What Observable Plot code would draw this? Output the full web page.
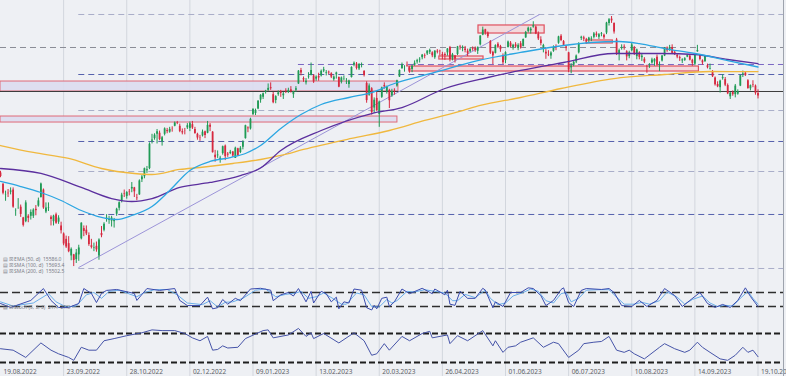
<!DOCTYPE html>
<html><head><meta charset="utf-8">
<script src="https://cdn.jsdelivr.net/npm/d3@7"></script>
<script src="https://cdn.jsdelivr.net/npm/@observablehq/plot@0.6"></script>
<style>
html,body{margin:0;padding:0;background:#eef0f4;}
#chart{position:relative;width:786px;height:376px;overflow:hidden;background:#eef0f4;font-family:"DejaVu Sans",sans-serif;}
#chart svg{position:absolute;left:0;display:block;}
</style></head><body><div id="chart"></div>
<script>
// ---------- DATA (DAX daily, 19.08.2022 – 19.10.2023, index = trading day) ----------
const opens = [
13610,13400,13190,13230,13250,13290,12890,12960,12970,12770,
12700,12800,12800,12800,12930,12990,13150,13290,12880,12950,
12780,12700,12830,12690,12620,12470,12370,12290,12060,12080,
11990,12080,12380,12570,12540,12440,12250,12210,12240,12060,
12480,12540,12740,12720,12710,12700,12840,12950,13080,13220,
13170,13260,13310,13330,13140,13200,13480,13540,13650,13690,
14200,14250,14330,14350,14190,14330,14400,14370,14430,14480,
14550,14480,14380,14400,14450,14440,14510,14420,14330,14270,
14300,14380,14350,14500,14370,13940,13930,13850,13970,14110,
13960,13970,14000,13880,14060,13990,14090,14250,14450,14430,
14700,14720,14800,14970,15020,15110,15150,15200,15070,14960,
15070,15120,15050,15140,15110,15160,15070,15150,15270,15520,
15370,15290,15400,15430,15420,15360,15410,15420,15510,15470,
15490,15460,15350,15440,15390,15300,15360,15300,15260,15390,
15620,15640,15550,15620,15500,15280,15060,15180,14820,15000,
14700,15020,15240,15120,15150,15050,15150,15230,15400,15560,
15580,15620,15560,15540,15620,15680,15720,15760,15800,15830,
15860,15850,15760,15880,15880,15820,15820,15850,15950,15740,
15790,15820,15960,15940,15920,15880,15870,15930,15930,15880,
16000,16180,16280,16220,16060,15860,15840,16010,15970,15800,
15710,15950,16030,15950,16000,15930,16020,15970,16130,16250,
16260,16330,16330,16200,16090,15950,15860,15820,15790,15880,
15960,16030,16160,16060,15960,15850,15570,15620,15680,15850,
16120,16130,16090,16080,16100,16140,16200,16140,16200,16180,
16220,16400,16480,16400,16090,15830,15930,15960,15870,15780,
15890,15940,15780,15850,15760,15730,15580,15590,15660,15680,
15770,15620,15700,15790,15940,15890,15950,15860,15800,15760,
15700,15710,15770,15790,15710,15640,15870,15810,15700,15690,
15610,15550,15500,15380,15260,15200,15370,15350,15240,15030,
15110,15070,15080,15230,15450,15470,15330,15180,15260,15230,
15090];
const highs = [
13640,13410,13270,13300,13330,13330,12940,13130,13010,12780,
13090,12830,12920,12940,13000,13140,13420,13310,13050,13050,
12810,12820,12860,12810,12690,12490,12430,12420,12210,12090,
12180,12260,12680,12620,12620,12490,12370,12300,12320,12380,
12610,12680,12830,12800,12800,12760,12950,13070,13230,13290,
13260,13300,13430,13340,13210,13480,13560,13700,13730,14170,
14330,14340,14420,14390,14290,14450,14440,14460,14470,14560,
14570,14520,14430,14440,14530,14560,14570,14460,14350,14310,
14410,14390,14570,14530,14380,14030,14020,13920,14110,14130,
13990,14030,14010,14090,14070,14100,14210,14500,14470,14630,
14810,14800,14960,15070,15100,15150,15270,15290,15110,15050,
15140,15150,15110,15180,15190,15220,15130,15220,15520,15560,
15400,15370,15480,15660,15440,15420,15470,15530,15580,15520,
15510,15480,15420,15490,15400,15400,15420,15370,15340,15590,
15680,15670,15650,15660,15520,15310,15270,15200,15010,15110,
14950,15210,15290,15230,15170,15170,15180,15340,15530,15660,
15610,15680,15590,15620,15700,15730,15760,15820,15830,15890,
15920,15870,15890,15910,15900,15860,15850,15930,15970,15840,
15800,15970,15990,15980,15970,15920,15940,15960,15960,15960,
16170,16330,16290,16240,16080,15880,16000,16040,15990,15830,
15870,16070,16060,16010,16040,16020,16060,16110,16250,16330,
16320,16430,16350,16240,16150,16010,15910,15890,15870,15980,
16000,16160,16190,16080,15980,15860,15650,15700,15810,16040,
16160,16160,16120,16140,16150,16230,16240,16210,16230,16200,
16420,16490,16528,16410,16120,15920,16000,16000,15890,15880,
16040,15970,15920,15870,15840,15760,15620,15650,15750,15740,
15810,15680,15800,15950,15960,15990,16000,15880,15830,15790,
15740,15760,15820,15800,15730,15820,15990,15820,15720,15800,
15640,15640,15520,15400,15310,15340,15440,15390,15270,15110,
15140,15260,15160,15430,15510,15500,15350,15250,15330,15250,
15160];
const lows = [
13520,13200,13080,13150,13200,12950,12800,12930,12780,12600,
12680,12680,12730,12760,12810,12970,13140,12930,12850,12890,
12620,12620,12650,12650,12470,12250,12200,12120,11970,11862,
11920,11960,12360,12420,12440,12240,12190,12140,12130,11980,
12400,12510,12690,12650,12600,12580,12800,12900,13050,13150,
13120,13180,13240,13150,13090,13190,13430,13500,13600,13670,
14150,14220,14150,14210,14110,14300,14340,14350,14370,14470,
14510,14360,14320,14320,14420,14380,14420,14330,14220,14200,
14280,14250,14340,14380,13980,13810,13880,13790,13940,13840,
13900,13950,13900,13880,13920,13970,14040,14240,14360,14410,
14680,14680,14790,14910,14980,15080,15130,15150,14900,14900,
15040,15020,14980,15090,15090,15100,15000,15110,15260,15420,
15300,15250,15360,15420,15280,15320,15320,15400,15480,15420,
15440,15370,15320,15360,15200,15270,15330,15260,15190,15380,
15590,15530,15520,15570,15400,14910,15040,14690,14720,14760,
14460,15000,15170,15080,14810,15020,15060,15210,15390,15540,
15490,15580,15470,15480,15600,15640,15660,15720,15740,15800,
15820,15760,15730,15830,15790,15720,15710,15790,15680,15700,
15660,15800,15900,15870,15850,15780,15850,15880,15860,15820,
15980,16170,16180,16120,15820,15630,15830,15930,15860,15630,
15650,15940,15950,15900,15940,15890,15920,15960,16120,16220,
16200,16310,16190,16080,15980,15850,15730,15780,15730,15860,
15890,16010,16060,15970,15880,15480,15460,15590,15650,15830,
16080,16060,16010,16040,16060,16110,16140,16100,16150,16100,
16190,16350,16400,16200,15800,15700,15900,15900,15700,15740,
15870,15800,15720,15720,15690,15650,15470,15560,15640,15600,
15600,15500,15680,15780,15860,15880,15830,15800,15740,15690,
15650,15690,15760,15700,15600,15610,15860,15700,15620,15670,
15550,15530,15390,15230,15200,15100,15340,15220,15070,14980,
15040,15010,15060,15220,15390,15410,15170,15140,15200,15060,
14990];
const closes = [
13544,13230,13194,13221,13272,12971,12893,12961,12835,12631,
13050,12761,12872,12916,12905,13088,13402,12956,12957,12957,
12741,12803,12671,12767,12532,12284,12227,12140,12184,11976,
12114,12209,12671,12517,12471,12273,12220,12219,12173,12356,
12438,12650,12766,12741,12767,12731,12931,13053,13195,13211,
13243,13254,13339,13257,13130,13460,13533,13689,13667,14146,
14225,14314,14379,14234,14266,14431,14380,14422,14428,14540,
14541,14383,14356,14397,14490,14529,14448,14343,14261,14264,
14370,14306,14497,14460,13987,13893,13943,13884,14098,13914,
13941,13996,13925,14071,13924,14069,14182,14490,14436,14610,
14792,14775,14948,15058,15087,15134,15187,15181,14920,15033,
15103,15094,15081,15132,15150,15126,15128,15180,15509,15476,
15345,15320,15412,15523,15308,15397,15380,15506,15534,15482,
15477,15398,15400,15475,15210,15381,15365,15305,15327,15578,
15654,15559,15631,15633,15428,14959,15232,14735,14967,14768,
14933,15195,15216,15211,14957,15128,15143,15329,15522,15629,
15581,15604,15520,15598,15655,15704,15729,15808,15789,15883,
15896,15796,15882,15863,15872,15796,15800,15922,15726,15815,
15734,15961,15952,15955,15896,15834,15914,15917,15897,15952,
16163,16275,16223,16152,15843,15793,15984,15953,15909,15664,
15853,16051,15964,15993,15961,15990,15950,16098,16231,16310,
16290,16358,16202,16111,16023,15988,15830,15813,15846,15949,
15946,16148,16081,15990,15938,15529,15603,15673,15791,16023,
16141,16105,16068,16125,16109,16204,16177,16190,16211,16131,
16406,16470,16447,16240,15821,15893,15952,15951,15775,15852,
15997,15832,15904,15767,15789,15677,15575,15603,15715,15729,
15621,15632,15792,15931,15891,15947,15840,15825,15772,15742,
15718,15740,15800,15715,15654,15805,15893,15727,15664,15781,
15572,15557,15405,15256,15217,15323,15387,15247,15085,15099,
15070,15230,15128,15424,15460,15425,15187,15237,15252,15095,
15045];

// moving averages: [trading-day index, value]
const ema50 = [[0,13450],[8,13356],[16,13244],[24,13095],[32,12908],[40,12778],[46,12740],[52,12815],[60,12983],[67,13282],[75,13655],[83,13823],[91,13897],[97,13972],[103,14121],[111,14439],[119,14700],[127,14886],[138,15017],[147,15110],[156,15278],[172,15484],[189,15707],[206,15857],[223,15987],[234,16043],[245,16062],[253,16024],[263,15931],[275,15838],[288,15707],[300,15586]];
const sma100 = [[0,13692],[16,13599],[32,13338],[44,13132],[52,13076],[60,13132],[71,13338],[83,13431],[95,13561],[103,13700],[111,14028],[127,14401],[147,14718],[159,14830],[176,15185],[193,15390],[206,15521],[223,15670],[243,15838],[262,15838],[275,15819],[288,15726],[300,15651]];
const sma200 = [[0,14121],[13,13991],[27,13879],[40,13692],[53,13599],[60,13580],[71,13674],[79,13711],[92,13785],[103,13860],[111,13935],[120,14047],[139,14252],[154,14401],[168,14588],[183,14774],[190,14868],[206,15017],[222,15185],[243,15371],[263,15446],[281,15502],[300,15500]];

// horizontal levels
const levelPrices = [16566, 15950, 15633, 15446, 14774, 14196, 13636, 12834, 11826];
const levelStart  = [31, 0, 118, 31, 31, 31, 31, 31, 31];
const levelKind   = ["light", "grey", "purple", "blue", "light", "blue", "light", "blue", "light"];
const keyLevel = 15129;
// shaded zones [startIndex, endIndex, low, high]
const zones = [[0, 157.6, 15129, 15315], [0, 157.2, 14550, 14662]];
// marked boxes [startIndex, endIndex, low, high]
const boxes = [[189.3, 215.5, 16211, 16361], [173.8, 191.3, 15726, 15782], [161.9, 276.6, 15502, 15595], [232.1, 242.5, 16025, 16081]];
// trend line [index, price]
const trend = [[31, 11845], [213.5, 16566]];

// stochastic (%K, %D) and RSI, [index, value]
const stochK = [[0,33],[4,16],[12,46],[17,97],[20,46],[23,16],[27,16],[31,33],[33,97],[36,76],[38,37],[40,76],[42,89],[46,93],[53,76],[54,46],[58,97],[63,89],[69,97],[71,46],[74,24],[79,24],[82,60],[84,10],[86,15],[88,50],[90,30],[93,55],[95,45],[99,95],[103,98],[107,90],[108,45],[111,70],[114,80],[116,65],[118,97],[120,60],[121,40],[123,85],[124,35],[127,85],[129,75],[131,40],[133,60],[134,10],[136,40],[138,35],[140,95],[143,90],[145,15],[147,5],[148,25],[149,10],[151,55],[153,60],[154,20],[156,40],[159,95],[162,75],[167,98],[171,75],[172,95],[176,70],[177,90],[178,30],[180,25],[182,85],[185,55],[188,55],[191,98],[192,90],[195,15],[196,40],[199,20],[202,80],[206,80],[209,100],[211,97],[214,67],[216,24],[219,46],[222,93],[223,100],[225,37],[227,20],[230,89],[232,97],[238,93],[241,97],[243,80],[246,24],[250,20],[253,46],[256,20],[260,46],[263,97],[267,67],[270,20],[273,46],[277,80],[280,33],[283,16],[286,29],[289,16],[292,46],[295,100],[297,63],[300,20]];
const stochD = [[0,40],[5,22],[13,35],[19,75],[22,40],[26,18],[30,22],[34,70],[37,80],[40,55],[43,85],[47,90],[54,62],[57,80],[61,92],[66,93],[70,70],[74,35],[80,28],[83,45],[86,18],[89,38],[92,40],[96,55],[101,90],[105,95],[109,62],[113,72],[117,78],[119,85],[122,55],[125,62],[128,78],[132,52],[135,30],[137,30],[141,78],[144,70],[147,20],[150,18],[153,50],[155,35],[157,45],[161,85],[164,82],[168,92],[172,85],[176,78],[179,45],[181,45],[184,72],[188,58],[192,90],[194,55],[197,28],[200,35],[203,65],[207,80],[210,95],[213,85],[216,45],[219,35],[222,75],[224,80],[226,40],[229,55],[232,90],[237,92],[241,92],[244,60],[247,30],[251,30],[254,38],[257,30],[261,45],[264,82],[268,60],[271,30],[274,50],[278,65],[281,35],[284,20],[287,25],[290,22],[293,55],[296,85],[298,55],[300,30]];
const rsi = [[0,49],[5,47],[10,37],[16,57],[20,47],[23,42],[27,37],[29,33],[32,51],[35,47],[38,47],[41,60],[45,63],[50,67],[56,71],[60,75],[64,74],[69,74],[73,70],[76,64],[79,60],[82,66],[84,47],[86,48],[88,53],[90,50],[94,51],[97,63],[104,74],[106,75],[108,64],[114,68],[118,77],[121,66],[123,71],[124,63],[128,70],[134,57],[140,71],[144,60],[147,40],[149,42],[152,56],[154,47],[159,66],[162,60],[167,70],[170,73],[171,64],[177,68],[178,56],[181,67],[185,60],[191,74],[195,53],[196,60],[199,44],[201,51],[204,53],[206,58],[211,64],[215,51],[219,58],[221,56],[225,37],[229,47],[231,56],[235,58],[238,59],[241,66],[244,47],[247,44],[249,47],[251,42],[255,35],[261,51],[263,56],[267,49],[271,44],[273,47],[276,58],[278,51],[281,44],[285,35],[288,33],[291,40],[294,51],[296,44],[298,47],[300,38]];

// legend and axis texts
const legendLines = ["\u25A4 \u2612 EMA (50, d)  15586.0", "\u25A4 \u2612 SMA (100, d)  15693.4", "\u25A4 \u2612 SMA (200, d)  15502.5"];
const stochLabel = "\u25A4 \u2612 Stoch (5, 3, 3)  21.4  21.0";
const dateLabels = ["19.08.2022","23.09.2022","28.10.2022","02.12.2022","09.01.2023","13.02.2023","20.03.2023","26.04.2023","01.06.2023","06.07.2023","10.08.2023","14.09.2023","19.10.2023"];
const dateIndex = [0,25,50,75,100,125,150,175,200,225,250,275,300];

// ---------- DRAWING ----------
const W = 786, MR = 3, PX = 2.525;
const xDomain = [0, (W - MR) / PX];
const GREEN = "#1f9a55", RED = "#d6293f";
const kindStyle = {
  light: {stroke: "#a9aec9", dash: "6,4"},
  grey: {stroke: "#8a8c96", dash: "6,4"},
  purple: {stroke: "#7b68c4", dash: "6,4"},
  blue: {stroke: "#5561ad", dash: "6,4"}
};
const candles = closes.map((c, i) => ({i, o: opens[i], h: Math.max(highs[i], opens[i], c), l: Math.min(lows[i], opens[i], c), c}));
const candleColor = d => d.c >= d.o ? GREEN : RED;
const grid = dateIndex.slice(1);
const base = {width: W, marginTop: 0, marginBottom: 0, marginLeft: 0, marginRight: MR,
  x: {domain: xDomain, axis: null}, style: {background: "transparent", overflow: "hidden"}};

const levelMarks = levelPrices.map((p, k) => Plot.ruleY([p], {
  x1: levelStart[k], x2: xDomain[1], stroke: kindStyle[levelKind[k]].stroke,
  strokeDasharray: kindStyle[levelKind[k]].dash, strokeWidth: 1}));

const legendMarks = legendLines.map((t, k) => Plot.text([t], {text: d => d, frameAnchor: "bottom-left",
  dx: 2, dy: -11 - (legendLines.length - 1 - k) * 5.8, fontSize: 5, fill: "#7a7d86", textAnchor: "start"}));

const main = Plot.plot({
  ...base, height: 283,
  y: {domain: [11546, 16827], axis: null},
  marks: [
    Plot.ruleX(grid, {stroke: "#d2d6dd", strokeWidth: 1}),
    Plot.rect(zones, {x1: d => d[0], x2: d => d[1], y1: d => d[2], y2: d => d[3], fill: "#dcdcef", fillOpacity: 0.9, stroke: "#e06a78", strokeWidth: 1}),
    ...levelMarks,
    Plot.ruleY([keyLevel], {stroke: "#3c3c3c", strokeWidth: 1}),
    Plot.rect(boxes, {x1: d => d[0], x2: d => d[1], y1: d => d[2], y2: d => d[3], fill: "#f3d9dc", stroke: "#e0505e", strokeWidth: 1.2}),
    Plot.line(trend, {stroke: "#9c94d8", strokeWidth: 1}),
    Plot.ruleX(candles, {x: "i", y1: "l", y2: "h", stroke: candleColor, strokeWidth: 1}),
    Plot.ruleX(candles, {x: "i", y1: "o", y2: "c", stroke: candleColor, strokeWidth: 1.8}),
    Plot.line(sma200, {stroke: "#f0b83e", strokeWidth: 1.3, curve: "monotone-x"}),
    Plot.line(sma100, {stroke: "#5b2f9e", strokeWidth: 1.3, curve: "monotone-x"}),
    Plot.line(ema50, {stroke: "#2ba6e2", strokeWidth: 1.3, curve: "monotone-x"}),
    ...legendMarks,
    Plot.frame({anchor: "right", stroke: "#9ea3ad"})
  ]
});

const stoch = Plot.plot({
  ...base, height: 35,
  y: {domain: [-31.4, 118.6], axis: null},
  marks: [
    Plot.ruleX(grid, {stroke: "#d2d6dd", strokeWidth: 1}),
    Plot.ruleY([80, 20], {stroke: "#2e2e2e", strokeWidth: 1.4, strokeDasharray: "8,4"}),
    Plot.line(stochD, {stroke: "#6aaeea", strokeWidth: 1}),
    Plot.line(stochK, {stroke: "#3b4cae", strokeWidth: 1}),
    Plot.text([stochLabel], {text: d => d, frameAnchor: "bottom-left", dx: 2, dy: -10, fontSize: 5, fill: "#7a7d86", textAnchor: "start"}),
    Plot.frame({anchor: "right", stroke: "#9ea3ad"})
  ]
});

const osc = Plot.plot({
  ...base, height: 58,
  y: {domain: [10.7, 90.7], axis: null},
  marks: [
    Plot.ruleX(grid, {stroke: "#d2d6dd", strokeWidth: 1}),
    Plot.ruleY([70, 30], {stroke: "#1e1e1e", strokeWidth: 2, strokeDasharray: "6,3"}),
    Plot.line(rsi, {stroke: "#4654a8", strokeWidth: 1}),
    Plot.text(dateLabels, {x: (d, k) => dateIndex[k], text: d => d, frameAnchor: "bottom", textAnchor: "start", dx: 3, dy: -3, fontSize: 6.5, fill: "#5c5f66"}),
    Plot.frame({anchor: "right", stroke: "#9ea3ad"})
  ]
});

const root = document.getElementById("chart");
[[main, 0], [stoch, 283], [osc, 318]].forEach(([svg, top]) => { svg.style.top = top + "px"; root.appendChild(svg); });
</script></body></html>
